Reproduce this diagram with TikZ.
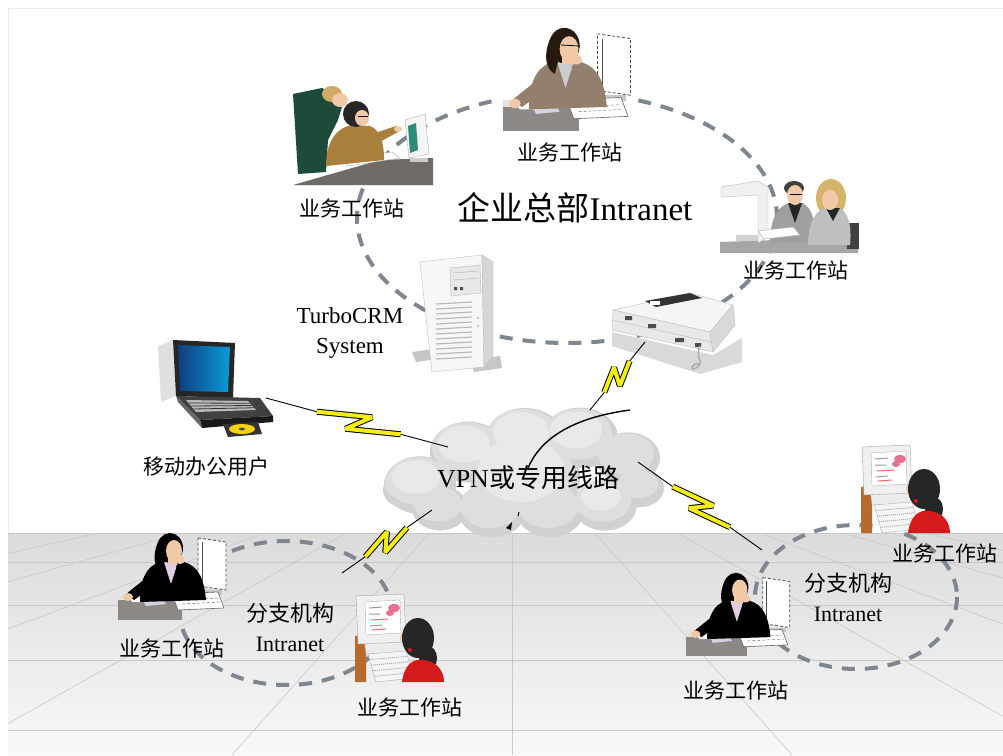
\documentclass[tikz,border=0pt]{standalone}
\usepackage{fontspec}
\setmainfont{Liberation Serif}
\newfontfamily\cjk{Noto Sans CJK SC}
\usetikzlibrary{calc}

\definecolor{ringgray}{HTML}{7F868F}
\definecolor{skin}{HTML}{F2C9A6}
\definecolor{zapyellow}{HTML}{F4EE10}
\definecolor{wood}{HTML}{B8692C}
\definecolor{shirtred}{HTML}{D41A1A}
\definecolor{screenpink}{HTML}{E8708E}
\definecolor{deskgray}{HTML}{6E6A66}
\definecolor{suitgreen}{HTML}{1E4A3A}
\definecolor{ochre}{HTML}{A8803C}
\definecolor{scrteal}{HTML}{2C8C78}
\definecolor{blond}{HTML}{D6B46C}
\definecolor{lcdblue}{HTML}{1458B8}
\colorlet{suit}{black}
\colorlet{hair}{black}
\colorlet{shirt}{violet!20}

% lightning link: thin line with a yellow zig-zag in its middle
\newcommand{\zapline}[3]{%
  \path ($(#1)!0.28!(#2)$) coordinate (zq1)
        ($(#1)!0.74!(#2)$) coordinate (zq2)
        ($(#1)!0.57!(#2)$) coordinate (zm1)
        ($(#1)!0.45!(#2)$) coordinate (zm2);
  \path ($(zm1)!#3!90:(#2)$) coordinate (zp1)
        ($(zm2)!#3!-90:(#2)$) coordinate (zp2);
  \draw[line width=0.9pt] (#1) -- (zq1) (zq2) -- (#2);
  \draw[line width=6pt, line join=bevel] (zq1) -- (zp1) -- (zp2) -- (zq2);
  \draw[zapyellow, line width=4pt, line join=bevel] (zq1) -- (zp1) -- (zp2) -- (zq2);
}

\tikzset{
  ring/.style={draw=ringgray, line width=4pt, dash pattern=on 13pt off 10pt},
  gridline/.style={draw=gray!42, line width=0.6pt},
  lbl/.style={font={\cjk\fontsize{21}{24}\selectfont}, inner sep=1pt},
  % woman at a desk, monitor seen from the side
  pics/deskwoman/.style={code={
    \fill[gray!22] (0,66) -- (62,66) -- (64,72) -- (0,72) -- cycle;
    \fill[deskgray!80] (0,72) rectangle (64,92);
    \fill[white] (8,64) -- (40,64) -- (46,74) -- (14,74) -- cycle;
    \fill[blue!15!gray!30] (24,70) -- (44,68) -- (48,76) -- (28,78) -- cycle;
    \filldraw[fill=white, draw=black!70, line width=0.8pt, densely dashed] (80,10) -- (108,14) -- (108,62) -- (80,58) -- cycle;
    \draw[black!70, line width=1pt] (84,14) -- (84,56);
    \fill[gray!45] (86,62) rectangle (104,67);
    \filldraw[fill=white, draw=black!60, line width=0.6pt] (54,66) -- (100,64) -- (106,80) -- (60,82) -- cycle;
    \draw[black!60, densely dashed] (62,72) -- (100,70) (64,76) -- (102,74);
    \fill[suit] (22,74) .. controls (22,52) and (28,38) .. (42,34) -- (66,34) .. controls (80,38) and (86,50) .. (88,72) -- cycle;
    \fill[shirt] (46,34) -- (60,34) -- (53,56) -- cycle;
    \fill[suit] (28,50) -- (8,66) -- (16,72) -- (36,58) -- cycle;
    \fill[skin] (10,69) ellipse [x radius=5, y radius=4];
    \fill[hair] (52,20) ellipse [x radius=13, y radius=15];
    \fill[hair] (40,14) .. controls (34,28) and (36,40) .. (44,44) -- (48,28) -- cycle;
    \fill[skin] (50,28) rectangle (58,36);
    \fill[skin] (56,23) ellipse [x radius=8, y radius=11];
    \fill[suit] (58,38) -- (64,34) -- (82,62) -- (74,66) -- cycle;
    \fill[skin] (62,32) ellipse [x radius=5, y radius=4];
  }},
  % two colleagues at a terminal
  pics/duo/.style={code={
    \fill[deskgray] (1,105) -- (88,80) -- (141,78) -- (141,105) -- cycle;
    \filldraw[fill=gray!8, draw=gray!60] (113,40) -- (133,34) -- (137,74) -- (117,78) -- cycle;
    \fill[scrteal] (116,46) -- (124,43) -- (126,70) -- (118,73) -- cycle;
    \fill[gray!40] (118,78) rectangle (136,82);
    \filldraw[fill=white, draw=gray!60] (48,80) -- (100,72) -- (108,78) -- (56,86) -- cycle;
    \fill[suitgreen] (1,14) -- (30,8) -- (52,20) -- (46,40) -- (36,60) -- (34,92) -- (6,94) -- cycle;
    \fill[blond!80!brown] (40,14) ellipse [x radius=10, y radius=8];
    \fill[skin] (48,20) ellipse [x radius=8, y radius=7];
    \fill[ochre] (34,86) .. controls (34,62) and (44,48) .. (60,45) -- (78,46) .. controls (88,50) and (92,62) .. (92,80) -- cycle;
    \fill[ochre] (80,54) -- (104,46) -- (106,52) -- (84,64) -- cycle;
    \fill[skin] (106,49) ellipse [x radius=4, y radius=3];
    \fill[black!85] (64,34) ellipse [x radius=13, y radius=13];
    \fill[skin] (70,38) ellipse [x radius=7, y radius=8];
    \draw[black] (66,36) -- (76,36);
  }},
  % two colleagues behind a large monitor
  pics/pair/.style={code={
    \fill[gray!70] (2,67) -- (140,62) -- (140,78) -- (2,78) -- cycle;
    \fill[black!75] (129,48) rectangle (141,74);
    \filldraw[fill=gray!12, draw=gray!55] (3,12) -- (40,6) -- (50,12) -- (50,62) -- (40,68) -- (40,20) -- (3,22) -- cycle;
    \fill[gray!35] (18,60) rectangle (40,66);
    \fill[gray!75] (52,68) .. controls (52,44) and (60,30) .. (72,28) -- (84,28) .. controls (94,32) and (98,46) .. (96,66) -- cycle;
    \fill[black!85] (70,28) -- (84,28) -- (77,48) -- cycle;
    \fill[black!75] (76,13) ellipse [x radius=10, y radius=7];
    \fill[skin] (77,20) ellipse [x radius=8, y radius=10];
    \draw[black] (72,19) -- (84,19);
    \fill[blond] (113,23) ellipse [x radius=15, y radius=19];
    \fill[gray!50] (90,70) .. controls (90,44) and (100,34) .. (108,33) -- (122,33) .. controls (130,38) and (134,50) .. (132,70) -- cycle;
    \fill[black!85] (108,33) -- (122,33) -- (115,46) -- cycle;
    \fill[skin] (112,25) ellipse [x radius=8, y radius=10];
    \filldraw[fill=white, draw=gray!60] (40,56) -- (75,52) -- (82,60) -- (46,64) -- cycle;
  }},
  % computer with a user seen from behind
  pics/backpc/.style={code={
    \fill[wood] (3,42) -- (14,40) -- (14,88) -- (3,88) -- cycle;
    \filldraw[fill=gray!15, draw=gray!60] (12,44) -- (56,42) -- (58,58) -- (14,60) -- cycle;
    \filldraw[fill=gray!8, draw=gray!60] (16,60) -- (54,57) -- (62,84) -- (24,88) -- cycle;
    \foreach \t in {0.2,0.4,0.6,0.8}
      \draw[gray!70, densely dotted, line width=1pt] ($(16,60)!\t!(24,88)$) -- ($(54,57)!\t!(62,84)$);
    \filldraw[fill=gray!12, draw=gray!70] (4,2) -- (52,0) -- (54,48) -- (6,50) -- cycle;
    \filldraw[fill=white, draw=gray!60] (13,8) -- (48,6) -- (49,39) -- (14,41) -- cycle;
    \fill[screenpink] (42,14) ellipse [x radius=6, y radius=4];
    \fill[screenpink] (38,19) ellipse [x radius=4, y radius=3];
    \draw[gray!80, line width=1pt] (17,14) -- (30,13) (17,20) -- (28,20) (18,32) -- (30,31);
    \draw[red!60, line width=1pt] (19,26) -- (36,25) (20,36) -- (34,35);
    \fill[skin] (52,44) ellipse [x radius=4, y radius=6];
    \fill[black!85] (66,44) ellipse [x radius=16, y radius=20];
    \fill[black!85] (76,64) ellipse [x radius=9, y radius=12];
    \fill[shirtred] (50,88) .. controls (52,72) and (60,64) .. (72,66) .. controls (86,68) and (92,78) .. (92,88) -- cycle;
    \fill[shirtred] (58,56) circle [radius=2];
  }}
}

\begin{document}
\begin{tikzpicture}[x=1pt, y=-1pt]
\useasboundingbox (0,0) rectangle (1003,755);
\fill[white] (0,0) rectangle (1003,755);
\draw[gray!15] (8,755) -- (8,8) -- (1003,8);

% tiled floor in perspective
\begin{scope}
  \shade[top color=gray!28, bottom color=gray!5] (8,533) rectangle (1003,755);
  \clip (8,533) rectangle (1003,755);
  \foreach \k in {-8,...,8} \draw[gridline] (512,440) -- ({512+280*\k},755);
  \foreach \yy in {533,562,605,660,730} \draw[gridline] (8,\yy) -- (1003,\yy);
\end{scope}

% intranet rings
\draw[ring] (567,218) ellipse [x radius=210, y radius=125];
\draw[ring] (286,613) ellipse [x radius=106, y radius=72];
\draw[ring] (856,597) ellipse [x radius=101, y radius=72];

% headquarters workstations
\begin{scope}
  \colorlet{suit}{gray!70!brown}
  \colorlet{hair}{black!80!brown}
  \colorlet{shirt}{gray!40}
  \fill[white] (500,18) rectangle (634,132);
  \pic[shift={(503,22)}, scale=1.18] {deskwoman};
  \draw[black, line width=0.8pt] (561,45) -- (580,46);
\end{scope}
\pic[shift={(292,80)}] {duo};
\pic[shift={(718,175)}] {pair};

% server tower
\fill[gray!45] (412,352) -- (440,348) -- (444,358) -- (416,362) -- cycle;
\fill[gray!45] (470,360) -- (500,356) -- (502,368) -- (474,372) -- cycle;
\filldraw[fill=gray!6, draw=gray!50] (420,262) -- (482,255) -- (484,367) -- (432,372) -- cycle;
\filldraw[fill=gray!32, draw=gray!50] (482,255) -- (493,262) -- (493,356) -- (484,367) -- cycle;
\filldraw[fill=gray!18, draw=gray!55] (450,268) -- (480,265) -- (481,293) -- (451,296) -- cycle;
\draw[gray!60] (453,273) -- (478,271) (453,280) -- (478,278);
\fill[black!70] (454,287) rectangle (457,290) (460,287) rectangle (463,290);
\foreach \i in {0,...,11}
  \draw[gray!55, line width=1.2pt] (436,{304+5*\i}) -- (472,{302+5*\i});
\fill[gray!60] (478,318) circle [radius=1.2] (478,326) circle [radius=1.2];

% router
\fill[gray!30] (612,332) -- (713,355) -- (742,338) -- (742,362) -- (700,374) -- (612,346) -- cycle;
\filldraw[fill=gray!8, draw=gray!50] (613,310) -- (690,293) -- (733,305) -- (710,332) -- cycle;
\filldraw[fill=gray!18, draw=gray!50] (613,310) -- (710,332) -- (713,352) -- (612,330) -- cycle;
\filldraw[fill=gray!30, draw=gray!50] (710,332) -- (733,305) -- (735,325) -- (713,352) -- cycle;
\draw[gray!55] (612,320) -- (711,342);
\fill[black!70] (625,316) rectangle (632,320) (648,324) rectangle (656,328) (675,338) rectangle (684,342) (695,343) rectangle (701,347);
\fill[black!80] (645,301) -- (690,293) -- (702,298) -- (656,307) -- cycle;
\fill[white] (650,301) rectangle (660,305);
\draw[gray!65, line width=1.5pt] (700,346) .. controls (694,358) and (706,362) .. (696,368)
  .. controls (688,372) and (692,362) .. (700,364);

% mobile laptop
\begin{scope}[shift={(158,338)}]
  \fill[gray!25] (0,8) -- (15,2) -- (18,58) -- (3,64) -- cycle;
  \fill[black!85] (15,2) -- (77,5) -- (75,60) -- (18,58) -- cycle;
  \shade[left color=lcdblue!70!black, right color=lcdblue!60!cyan] (20,7) -- (72,9) -- (70,54) -- (22,53) -- cycle;
  \fill[black!75] (18,58) -- (102,60) -- (115,78) -- (42,82) -- cycle;
  \fill[gray!55] (28,62) -- (90,63) -- (98,72) -- (38,74) -- cycle;
  \foreach \t in {0.25,0.5,0.75}
    \draw[black!80, line width=0.8pt] ($(28,62)!\t!(38,74)$) -- ($(90,63)!\t!(98,72)$);
  \fill[black!90] (42,82) -- (115,78) -- (115,84) -- (44,90) -- cycle;
  \fill[black!60] (18,58) -- (42,82) -- (44,90) -- (20,64) -- cycle;
  \fill[black!80] (65,86) -- (100,84) -- (104,96) -- (70,99) -- cycle;
  \fill[yellow!70!orange] (84,91) ellipse [x radius=13, y radius=5];
  \fill[black!70] (84,91) ellipse [x radius=3, y radius=1.5];
\end{scope}

% network cloud: three soft layers of overlapping puffs
\foreach \cx/\cy/\r in {420/485/36, 468/452/38, 525/440/40, 580/438/38, 628/458/32, 640/488/24,
                        605/505/32, 550/510/34, 492/510/34, 440/508/28, 525/478/55, 405/490/22}
  \fill[gray!36] (\cx,\cy) ellipse [x radius=\r, y radius={0.8*\r}];
\foreach \cx/\cy/\r in {420/485/36, 468/452/38, 525/440/40, 580/438/38, 628/458/32, 640/488/24,
                        605/505/32, 550/510/34, 492/510/34, 440/508/28, 525/478/55, 405/490/22}
  \fill[gray!26] ({\cx-2},{\cy-4}) ellipse [x radius={\r-4}, y radius={0.8*\r-5}];
\foreach \cx/\cy/\r in {468/452/38, 525/440/40, 580/438/38, 525/478/55, 420/485/36, 605/505/32}
  \fill[gray!17] ({\cx-4},{\cy-8}) ellipse [x radius={\r-12}, y radius={0.8*\r-12}];
\draw[line width=1.4pt] (528,468) .. controls (540,440) and (570,418) .. (630,410);
\fill[black] (506,528) -- (512,522) -- (511,530) -- cycle;
\draw[line width=1pt] (518,516) -- (519,512);

% link end points
\coordinate (lapjack) at (266,398);
\coordinate (cloudW) at (448,447);
\coordinate (rtrjack) at (645,342);
\coordinate (cloudN) at (590,410);
\coordinate (cloudE) at (638,462);
\coordinate (branchR) at (762,550);
\coordinate (cloudSW) at (432,510);
\coordinate (branchL) at (342,573);

\zapline{lapjack}{cloudW}{9pt}
\zapline{rtrjack}{cloudN}{8pt}
\zapline{cloudE}{branchR}{8pt}
\zapline{cloudSW}{branchL}{8pt}

% branch workstations
\pic[shift={(118,528)}] {deskwoman};
\pic[shift={(686,568)}, scale=0.96] {deskwoman};
\pic[shift={(352,594)}] {backpc};
\pic[shift={(858,445)}] {backpc};

% labels
\node[lbl] (ws1) at (570,152) {业务工作站};
\node[lbl] (ws2) at (352,208) {业务工作站};
\node[lbl] (ws3) at (796,270) {业务工作站};
\node[font=\fontsize{33}{36}\selectfont, inner sep=1pt] (hq) at (575,208) {{\cjk 企业总部}Intranet};
\node[align=center, font=\fontsize{23}{30}\selectfont, inner sep=1pt] (crm) at (350,333) {TurboCRM\\System};
\node[lbl] (mob) at (206,467) {移动办公用户};
\node[font=\fontsize{26}{30}\selectfont, inner sep=1pt] (vpn) at (528,478) {VPN{\cjk 或专用线路}};
\node[align=center, font=\fontsize{22}{30}\selectfont, inner sep=1pt] (brl) at (290,627) {{\cjk 分支机构}\\Intranet};
\node[align=center, font=\fontsize{22}{30}\selectfont, inner sep=1pt] (brr) at (848,597) {{\cjk 分支机构}\\Intranet};
\node[lbl] (ws4) at (172,648) {业务工作站};
\node[lbl] (ws5) at (410,707) {业务工作站};
\node[lbl] (ws6) at (736,690) {业务工作站};
\node[lbl] (ws7) at (945,553) {业务工作站};
\end{tikzpicture}
\end{document}
